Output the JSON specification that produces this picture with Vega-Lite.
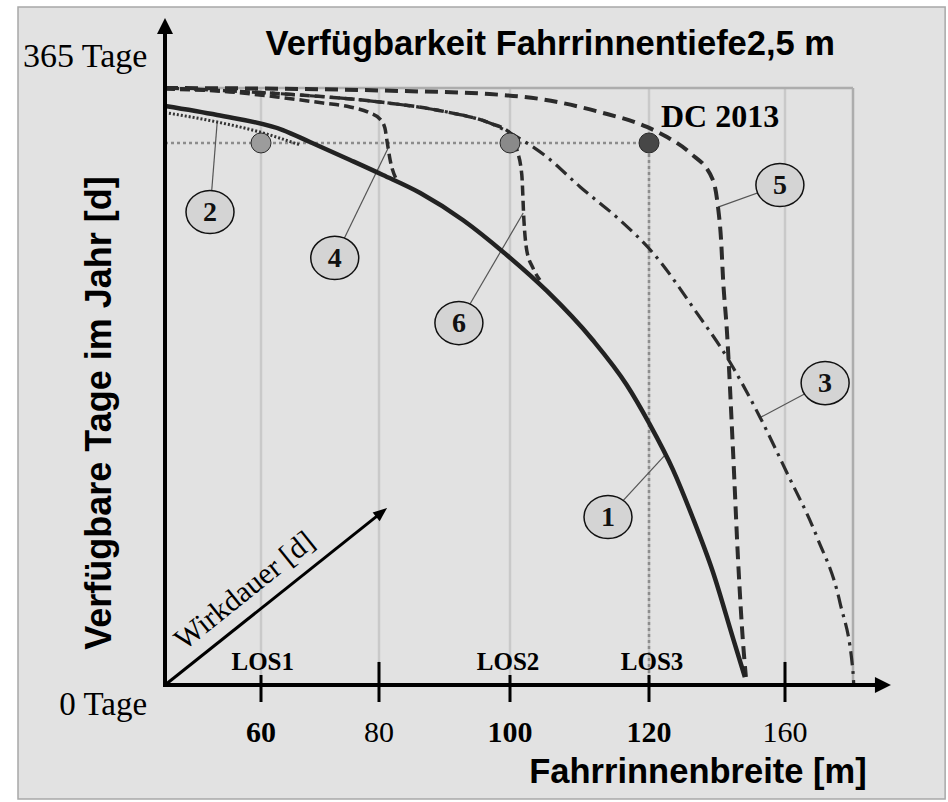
{
  "$schema": "https://vega.github.io/schema/vega-lite/v6.json",
  "width": 948,
  "height": 802,
  "autosize": {"type": "none"},
  "padding": 0,
  "background": "#ffffff",
  "config": {"view": {"stroke": null}},
  "datasets": {
    "curves": [
      {"curve": "1", "m": 44, "d": 354},
      {"curve": "1", "m": 52.7, "d": 348.5},
      {"curve": "1", "m": 63.7, "d": 339.3},
      {"curve": "1", "m": 68.3, "d": 332},
      {"curve": "1", "m": 75.1, "d": 321},
      {"curve": "1", "m": 80.6, "d": 311.8},
      {"curve": "1", "m": 86.3, "d": 300.8},
      {"curve": "1", "m": 92.8, "d": 284.3},
      {"curve": "1", "m": 99.5, "d": 262.9},
      {"curve": "1", "m": 105.3, "d": 240.9},
      {"curve": "1", "m": 111.9, "d": 210.9},
      {"curve": "1", "m": 116.8, "d": 183.4},
      {"curve": "1", "m": 120, "d": 160.2},
      {"curve": "1", "m": 127.1, "d": 131.4},
      {"curve": "1", "m": 132.9, "d": 102.1},
      {"curve": "1", "m": 138.8, "d": 69.1},
      {"curve": "1", "m": 144.7, "d": 28.7},
      {"curve": "1", "m": 148.2, "d": 4.9},
      {"curve": "2", "m": 44, "d": 350},
      {"curve": "2", "m": 52.7, "d": 344.2},
      {"curve": "2", "m": 59.8, "d": 338.1},
      {"curve": "2", "m": 66.6, "d": 330.2},
      {"curve": "3", "m": 44, "d": 365},
      {"curve": "3", "m": 54.8, "d": 363.2},
      {"curve": "3", "m": 66.6, "d": 360.7},
      {"curve": "3", "m": 80.2, "d": 356.4},
      {"curve": "3", "m": 90.4, "d": 350.3},
      {"curve": "3", "m": 96.9, "d": 343.6},
      {"curve": "3", "m": 100, "d": 337.5},
      {"curve": "3", "m": 105.3, "d": 322.8},
      {"curve": "3", "m": 110.1, "d": 304.5},
      {"curve": "3", "m": 115.8, "d": 284.3},
      {"curve": "3", "m": 121.2, "d": 264.1},
      {"curve": "3", "m": 134.1, "d": 227.4},
      {"curve": "3", "m": 142.9, "d": 200.5},
      {"curve": "3", "m": 152.6, "d": 163.9},
      {"curve": "3", "m": 160.6, "d": 129.6},
      {"curve": "3", "m": 169.4, "d": 90.5},
      {"curve": "3", "m": 176.2, "d": 50.1},
      {"curve": "3", "m": 180, "d": 7.9},
      {"curve": "3", "m": 180.2, "d": 1},
      {"curve": "4", "m": 44, "d": 364.4},
      {"curve": "4", "m": 54.8, "d": 362.6},
      {"curve": "4", "m": 62.7, "d": 359.5},
      {"curve": "4", "m": 70.5, "d": 355.8},
      {"curve": "4", "m": 75.1, "d": 353.4},
      {"curve": "4", "m": 78.5, "d": 349.7},
      {"curve": "4", "m": 80.15, "d": 346},
      {"curve": "4", "m": 80.9, "d": 340.5},
      {"curve": "4", "m": 81.2, "d": 333.2},
      {"curve": "4", "m": 81.7, "d": 321},
      {"curve": "4", "m": 82.7, "d": 308.8},
      {"curve": "5", "m": 44, "d": 365},
      {"curve": "5", "m": 66.6, "d": 364.4},
      {"curve": "5", "m": 83.2, "d": 363.2},
      {"curve": "5", "m": 96.9, "d": 361.3},
      {"curve": "5", "m": 104.3, "d": 358.3},
      {"curve": "5", "m": 112.9, "d": 350.3},
      {"curve": "5", "m": 119.7, "d": 341.2},
      {"curve": "5", "m": 125.3, "d": 335},
      {"curve": "5", "m": 132.1, "d": 325.3},
      {"curve": "5", "m": 138.8, "d": 308.8},
      {"curve": "5", "m": 140.3, "d": 292.2},
      {"curve": "5", "m": 141.2, "d": 272.1},
      {"curve": "5", "m": 141.8, "d": 247.6},
      {"curve": "5", "m": 142.9, "d": 217},
      {"curve": "5", "m": 144.7, "d": 143.7},
      {"curve": "5", "m": 146.2, "d": 76.4},
      {"curve": "5", "m": 147.6, "d": 27.5},
      {"curve": "5", "m": 148.5, "d": 4.9},
      {"curve": "6", "m": 44, "d": 365},
      {"curve": "6", "m": 54.8, "d": 363.2},
      {"curve": "6", "m": 66.6, "d": 360.7},
      {"curve": "6", "m": 80.2, "d": 356.4},
      {"curve": "6", "m": 90.4, "d": 350.3},
      {"curve": "6", "m": 96.9, "d": 343.6},
      {"curve": "6", "m": 100, "d": 337.5},
      {"curve": "6", "m": 101, "d": 327.1},
      {"curve": "6", "m": 101.7, "d": 311.8},
      {"curve": "6", "m": 102, "d": 284.3},
      {"curve": "6", "m": 102.4, "d": 266},
      {"curve": "6", "m": 103.3, "d": 255},
      {"curve": "6", "m": 104.3, "d": 247.6}
    ],
    "grid": [{"m": 60}, {"m": 80}, {"m": 100}, {"m": 120}, {"m": 160}],
    "ticks": [
      {"m": 60, "label": "60", "bold": true, "top": 6.1},
      {"m": 80, "label": "80", "bold": false, "top": 14.1},
      {"m": 100, "label": "100", "bold": true, "top": 6.1},
      {"m": 120, "label": "120", "bold": true, "top": 6.1},
      {"m": 160, "label": "160", "bold": false, "top": 14.1}
    ],
    "los": [
      {"los": "LOS1", "m": 60, "d": 331.4, "lm": 60.3},
      {"los": "LOS2", "m": 100, "d": 331.4, "lm": 99.7},
      {"los": "LOS3", "m": 120, "d": 331.4, "lm": 120.9}
    ],
    "callouts": [
      {"id": "1", "m": 114.1, "d": 102.7, "tm": 124.7, "td": 140.6},
      {"id": "2", "m": 51.5, "d": 289.2, "tm": 52.7, "td": 344.2},
      {"id": "3", "m": 171.8, "d": 184.6, "tm": 152.4, "td": 163.2},
      {"id": "4", "m": 72.5, "d": 261.1, "tm": 81.4, "td": 328.3},
      {"id": "5", "m": 158.5, "d": 305.7, "tm": 140.3, "td": 292.2},
      {"id": "6", "m": 92.2, "d": 221.3, "tm": 101.9, "td": 288.6}
    ]
  },
  "layer": [
    {
      "data": {"values": [{}]},
      "mark": {"type": "rect", "fill": "#e2e2e2", "stroke": "#a8a8a8", "strokeWidth": 1.5},
      "encoding": {
        "x": {"datum": 19.5, "type": "quantitative", "scale": {"domain": [44, 60, 80, 100, 120, 160, 180], "range": [165, 261, 379, 510, 649, 785, 853], "nice": false, "zero": false}, "axis": null},
        "x2": {"datum": 207.1},
        "y": {"datum": 414.5, "type": "quantitative", "scale": {"domain": [0, 365], "range": [685, 88], "nice": false, "zero": false}, "axis": null},
        "y2": {"datum": -69.7}
      }
    },
    {
      "data": {"name": "grid"},
      "mark": {"type": "rule", "color": "#c9c9c9", "strokeWidth": 2.5},
      "encoding": {
        "x": {"field": "m", "type": "quantitative"},
        "y": {"datum": 0, "type": "quantitative"},
        "y2": {"datum": 365}
      }
    },
    {
      "data": {"values": [{}]},
      "mark": {"type": "rule", "color": "#adadad", "strokeWidth": 2.5},
      "encoding": {
        "x": {"datum": 44, "type": "quantitative"},
        "x2": {"datum": 180},
        "y": {"datum": 365, "type": "quantitative"}
      }
    },
    {
      "data": {"values": [{}]},
      "mark": {"type": "rule", "color": "#adadad", "strokeWidth": 2.5},
      "encoding": {
        "x": {"datum": 180, "type": "quantitative"},
        "y": {"datum": 0, "type": "quantitative"},
        "y2": {"datum": 365}
      }
    },
    {
      "data": {"values": [{}]},
      "mark": {"type": "rule", "color": "#8c8c8c", "strokeWidth": 2.5, "strokeDash": [3, 3]},
      "encoding": {
        "x": {"datum": 44, "type": "quantitative"},
        "x2": {"datum": 120},
        "y": {"datum": 331.4, "type": "quantitative"}
      }
    },
    {
      "data": {"values": [{}]},
      "mark": {"type": "rule", "color": "#8c8c8c", "strokeWidth": 2.5, "strokeDash": [3, 3]},
      "encoding": {
        "x": {"datum": 120, "type": "quantitative"},
        "y": {"datum": 0, "type": "quantitative"},
        "y2": {"datum": 331.4}
      }
    },
    {
      "data": {"name": "callouts"},
      "mark": {"type": "rule", "color": "#555555", "strokeWidth": 1.2},
      "encoding": {
        "x": {"field": "m", "type": "quantitative"},
        "y": {"field": "d", "type": "quantitative"},
        "x2": {"field": "tm"},
        "y2": {"field": "td"}
      }
    },
    {
      "data": {"name": "curves"},
      "transform": [{"filter": "datum.curve === '3'"}],
      "mark": {"type": "line", "color": "#2b2b2b", "strokeWidth": 3.2, "strokeDash": [14, 6, 3, 6], "interpolate": "monotone"},
      "encoding": {"x": {"field": "m", "type": "quantitative"}, "y": {"field": "d", "type": "quantitative"}}
    },
    {
      "data": {"name": "curves"},
      "transform": [{"filter": "datum.curve === '6'"}],
      "mark": {"type": "line", "color": "#2b2b2b", "strokeWidth": 3.5, "strokeDash": [10, 5], "interpolate": "monotone"},
      "encoding": {"x": {"field": "m", "type": "quantitative"}, "y": {"field": "d", "type": "quantitative"}}
    },
    {
      "data": {"name": "curves"},
      "transform": [{"filter": "datum.curve === '4'"}],
      "mark": {"type": "line", "color": "#2b2b2b", "strokeWidth": 3.5, "strokeDash": [10, 5], "interpolate": "monotone"},
      "encoding": {"x": {"field": "m", "type": "quantitative"}, "y": {"field": "d", "type": "quantitative"}}
    },
    {
      "data": {"name": "curves"},
      "transform": [{"filter": "datum.curve === '5'"}],
      "mark": {"type": "line", "color": "#2b2b2b", "strokeWidth": 4, "strokeDash": [13, 7], "interpolate": "monotone"},
      "encoding": {"x": {"field": "m", "type": "quantitative"}, "y": {"field": "d", "type": "quantitative"}}
    },
    {
      "data": {"name": "curves"},
      "transform": [{"filter": "datum.curve === '2'"}],
      "mark": {"type": "line", "color": "#333333", "strokeWidth": 3, "strokeDash": [2, 2], "interpolate": "monotone"},
      "encoding": {"x": {"field": "m", "type": "quantitative"}, "y": {"field": "d", "type": "quantitative"}}
    },
    {
      "data": {"name": "curves"},
      "transform": [{"filter": "datum.curve === '1'"}],
      "mark": {"type": "line", "color": "#222222", "strokeWidth": 4.5, "interpolate": "monotone"},
      "encoding": {"x": {"field": "m", "type": "quantitative"}, "y": {"field": "d", "type": "quantitative"}}
    },
    {
      "data": {"name": "los"},
      "mark": {"type": "point", "shape": "circle", "filled": true, "size": 400, "stroke": "#2a2a2a", "strokeWidth": 1, "opacity": 1},
      "encoding": {
        "x": {"field": "m", "type": "quantitative"},
        "y": {"field": "d", "type": "quantitative"},
        "fill": {"field": "los", "type": "nominal", "scale": {"domain": ["LOS1", "LOS2", "LOS3"], "range": ["#9c9c9c", "#8a8a8a", "#474747"]}, "legend": null}
      }
    },
    {
      "data": {"name": "callouts"},
      "mark": {"type": "point", "shape": "M-1,0A1,0.9,0,1,1,1,0A1,0.9,0,1,1,-1,0Z", "filled": true, "fill": "#d4d4d4", "stroke": "#111111", "strokeWidth": 1.5, "size": 2304, "opacity": 1},
      "encoding": {"x": {"field": "m", "type": "quantitative"}, "y": {"field": "d", "type": "quantitative"}}
    },
    {
      "data": {"name": "callouts"},
      "mark": {"type": "text", "font": "Liberation Serif", "fontWeight": "bold", "fontSize": 28, "color": "#111111", "baseline": "middle", "align": "center", "dy": 1},
      "encoding": {"x": {"field": "m", "type": "quantitative"}, "y": {"field": "d", "type": "quantitative"}, "text": {"field": "id"}}
    },
    {
      "data": {"values": [{}]},
      "mark": {"type": "rule", "color": "#000000", "strokeWidth": 4},
      "encoding": {
        "x": {"datum": 44, "type": "quantitative"},
        "y": {"datum": -1.2, "type": "quantitative"},
        "y2": {"datum": 398}
      }
    },
    {
      "data": {"values": [{}]},
      "mark": {"type": "rule", "color": "#000000", "strokeWidth": 4},
      "encoding": {
        "x": {"datum": 43.7, "type": "quantitative"},
        "x2": {"datum": 187},
        "y": {"datum": 0, "type": "quantitative"}
      }
    },
    {
      "data": {"values": [{}]},
      "mark": {"type": "rule", "color": "#000000", "strokeWidth": 3},
      "encoding": {
        "x": {"datum": 44, "type": "quantitative"},
        "x2": {"datum": 80.4},
        "y": {"datum": 0, "type": "quantitative"},
        "y2": {"datum": 105.5}
      }
    },
    {
      "data": {"values": [{}]},
      "mark": {"type": "point", "shape": "M0,-1L1,1L-1,1Z", "filled": true, "color": "#000000", "size": 256, "opacity": 1},
      "encoding": {"x": {"datum": 44, "type": "quantitative"}, "y": {"datum": 402.9, "type": "quantitative"}}
    },
    {
      "data": {"values": [{}]},
      "mark": {"type": "point", "shape": "M1,0L-1,1L-1,-1Z", "filled": true, "color": "#000000", "size": 256, "opacity": 1},
      "encoding": {"x": {"datum": 188.8, "type": "quantitative"}, "y": {"datum": 0, "type": "quantitative"}}
    },
    {
      "data": {"values": [{}]},
      "mark": {"type": "point", "shape": "M1,0L-1,0.8L-1,-0.8Z", "filled": true, "color": "#000000", "size": 196, "angle": 321.3, "opacity": 1},
      "encoding": {"x": {"datum": 80.4, "type": "quantitative"}, "y": {"datum": 105.5, "type": "quantitative"}}
    },
    {
      "data": {"name": "ticks"},
      "mark": {"type": "rule", "color": "#000000", "strokeWidth": 3},
      "encoding": {
        "x": {"field": "m", "type": "quantitative"},
        "y": {"field": "top", "type": "quantitative"},
        "y2": {"datum": -10.4}
      }
    },
    {
      "data": {"name": "ticks"},
      "transform": [{"filter": "datum.bold"}],
      "mark": {"type": "text", "font": "Liberation Serif", "fontWeight": "bold", "fontSize": 30, "color": "#000000", "baseline": "middle", "align": "center"},
      "encoding": {"x": {"field": "m", "type": "quantitative"}, "y": {"datum": -29.5, "type": "quantitative"}, "text": {"field": "label"}}
    },
    {
      "data": {"name": "ticks"},
      "transform": [{"filter": "!datum.bold"}],
      "mark": {"type": "text", "font": "Liberation Serif", "fontWeight": "normal", "fontSize": 30, "color": "#000000", "baseline": "middle", "align": "center"},
      "encoding": {"x": {"field": "m", "type": "quantitative"}, "y": {"datum": -29.5, "type": "quantitative"}, "text": {"field": "label"}}
    },
    {
      "data": {"name": "los"},
      "mark": {"type": "text", "font": "Liberation Serif", "fontWeight": "bold", "fontSize": 25, "color": "#000000", "baseline": "middle", "align": "center"},
      "encoding": {"x": {"field": "lm", "type": "quantitative"}, "y": {"datum": 14.1, "type": "quantitative"}, "text": {"field": "los"}}
    },
    {
      "data": {"values": [{}]},
      "mark": {"type": "text", "text": "Verfügbarkeit Fahrrinnentiefe2,5 m", "font": "Liberation Sans", "fontWeight": "bold", "fontSize": 34.5, "color": "#000000", "baseline": "middle", "align": "center"},
      "encoding": {"x": {"datum": 105.8, "type": "quantitative"}, "y": {"datum": 391.3, "type": "quantitative"}}
    },
    {
      "data": {"values": [{}]},
      "mark": {"type": "text", "text": "Verfügbare Tage im Jahr [d]", "font": "Liberation Sans", "fontWeight": "bold", "fontSize": 36, "color": "#000000", "baseline": "middle", "align": "center", "angle": 270},
      "encoding": {"x": {"datum": 33.2, "type": "quantitative"}, "y": {"datum": 166.3, "type": "quantitative"}}
    },
    {
      "data": {"values": [{}]},
      "mark": {"type": "text", "text": "Fahrrinnenbreite [m]", "font": "Liberation Sans", "fontWeight": "bold", "fontSize": 34.5, "color": "#000000", "baseline": "middle", "align": "center"},
      "encoding": {"x": {"datum": 134.4, "type": "quantitative"}, "y": {"datum": -53.8, "type": "quantitative"}}
    },
    {
      "data": {"values": [{}]},
      "mark": {"type": "text", "text": "365 Tage", "font": "Liberation Serif", "fontSize": 34, "color": "#000000", "baseline": "middle", "align": "center"},
      "encoding": {"x": {"datum": 30.7, "type": "quantitative"}, "y": {"datum": 384, "type": "quantitative"}}
    },
    {
      "data": {"values": [{}]},
      "mark": {"type": "text", "text": "0 Tage", "font": "Liberation Serif", "fontSize": 33, "color": "#000000", "baseline": "middle", "align": "center"},
      "encoding": {"x": {"datum": 33.7, "type": "quantitative"}, "y": {"datum": -12.2, "type": "quantitative"}}
    },
    {
      "data": {"values": [{}]},
      "mark": {"type": "text", "text": "DC 2013", "font": "Liberation Serif", "fontWeight": "bold", "fontSize": 32, "color": "#000000", "baseline": "middle", "align": "center"},
      "encoding": {"x": {"datum": 140.9, "type": "quantitative"}, "y": {"datum": 347.3, "type": "quantitative"}}
    },
    {
      "data": {"values": [{}]},
      "mark": {"type": "text", "text": "Wirkdauer [d]", "font": "Liberation Serif", "fontSize": 30, "color": "#000000", "baseline": "middle", "align": "center", "angle": 321.3},
      "encoding": {"x": {"datum": 57.3, "type": "quantitative"}, "y": {"datum": 57.5, "type": "quantitative"}}
    }
  ]
}
